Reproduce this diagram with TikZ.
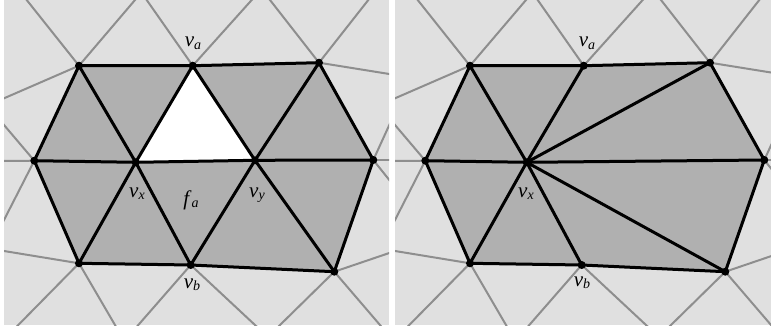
\documentclass[tikz,border=0pt]{standalone}
\usepackage{fontspec}
\setmainfont{Liberation Serif}
\definecolor{bglight}{HTML}{E0E0E0}
\definecolor{meshgray}{HTML}{8E8E8E}
\definecolor{facegray}{HTML}{B0B0B0}
\tikzset{
  meshline/.style={draw=meshgray, line width=2pt, shorten >=-10pt},
  edgeline/.style={draw=black, line width=3pt, line cap=round, line join=round},
  vdot/.style={circle, fill=black, inner sep=0pt, minimum size=8pt},
  lbl/.style={font=\fontsize{21}{21}\selectfont, inner sep=0pt, anchor=base},
}
\newcommand{\lab}[2]{\textit{#1}\raisebox{-2.5pt}{\fontsize{14}{14}\selectfont\textit{#2}}}
% #1 prefix, #2 horizontal shift
\newcommand{\drawpanel}[2]{%
  \path
    (79+#2,65.7)    coordinate (#1TL)
    (192.7+#2,65.7) coordinate (#1va)
    (319+#2,62.7)   coordinate (#1TR)
    (34.3+#2,160.7) coordinate (#1L)
    (135.7+#2,162.3) coordinate (#1vx)
    (255+#2,160.3)  coordinate (#1vy)
    (373.3+#2,160)  coordinate (#1R)
    (79+#2,263.3)   coordinate (#1BL)
    (190.7+#2,265)  coordinate (#1vb)
    (334.3+#2,271.7) coordinate (#1BR);
  \begin{scope}
    \clip (4+#2,0) rectangle (389+#2,325);
    \fill[bglight] (4+#2,0) rectangle (389+#2,325);
    \foreach \v/\px/\py [count=\i] in {TL/26.7/0, TL/135/0, va/146.7/0, va/251.7/0,
        TR/270/0, TR/368.3/0, TR/389.3/74, TL/4/98.3, L/4/125, L/4/161, L/4/220,
        BL/4/251, BL/18.3/325, BL/115/325, vb/138.3/325, vb/255/325, BR/280/325,
        BR/380/325, BR/389.3/253, R/389.3/125, R/389.3/160, R/389.3/180}{
      \coordinate (#1e\i) at (\px+#2,\py);
      \draw[meshline] (#1\v) -- (#1e\i);
    }
  \end{scope}
  \fill[facegray] (#1TL) -- (#1va) -- (#1TR) -- (#1R) -- (#1BR) -- (#1vb) -- (#1BL) -- (#1L) -- cycle;
}
\begin{document}
\begin{tikzpicture}[x=1pt,y=-1pt]
\useasboundingbox (0,0) rectangle (771,329);
\fill[white] (0,0) rectangle (771,329);
% ---------- left panel ----------
\drawpanel{l}{0}
\fill[white] (lva) -- (lvx) -- (lvy) -- cycle;
\draw[edgeline] (lTL) -- (lva) -- (lTR) -- (lR) -- (lBR) -- (lvb) -- (lBL) -- (lL) -- cycle;
\draw[edgeline] (lL) -- (lvx) -- (lvy) -- (lR);
\draw[edgeline] (lTL) -- (lvx) -- (lva) -- (lvy) -- (lTR);
\draw[edgeline] (lBL) -- (lvx) -- (lvb) -- (lvy) -- (lBR);
\foreach \n in {TL,va,TR,L,vx,vy,R,BL,vb,BR}{\node[vdot] (ld\n) at (l\n) {};}
\node[lbl] (lla) at (193,47) {\lab{v}{a}};
\node[lbl] (llx) at (137,197) {\lab{v}{x}};
\node[lbl] (llf) at (191,205) {\lab{f}{a}};
\node[lbl] (lly) at (257,197) {\lab{v}{y}};
\node[lbl] (llb) at (192,288) {\lab{v}{b}};
% ---------- right panel ----------
\drawpanel{r}{391}
\draw[edgeline] (rTL) -- (rva) -- (rTR) -- (rR) -- (rBR) -- (rvb) -- (rBL) -- (rL) -- cycle;
\foreach \n in {TL,va,TR,L,R,BL,vb,BR}{\draw[edgeline] (rvx) -- (r\n);}
\foreach \n in {TL,va,TR,L,vx,R,BL,vb,BR}{\node[vdot] (rd\n) at (r\n) {};}
\node[lbl] (rla) at (587,47) {\lab{v}{a}};
\node[lbl] (rlx) at (526,197) {\lab{v}{x}};
\node[lbl] (rlb) at (582,286) {\lab{v}{b}};
\end{tikzpicture}
\end{document}
